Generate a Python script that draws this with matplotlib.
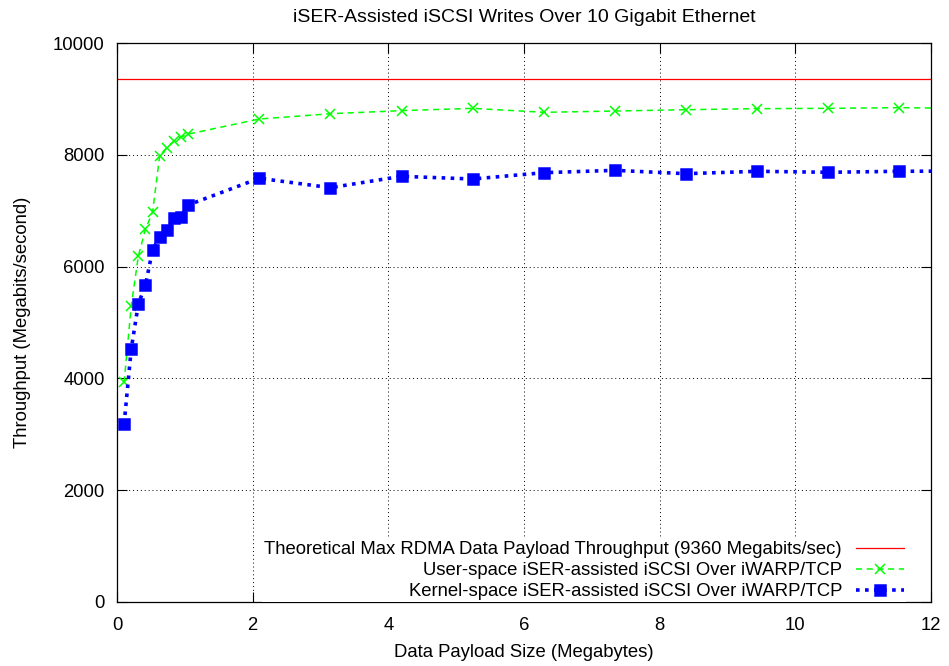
import matplotlib
matplotlib.use("Agg")
import matplotlib.pyplot as plt
import numpy as np

plt.rcParams['font.family'] = ['Liberation Sans', 'DejaVu Sans']

# Payload sizes: 100 KiB steps up to 1 MiB, then whole MiB steps (in megabytes)
small_sizes = [k * 1.048576 / 10 for k in range(1, 11)]
large_sizes = [k * 1.048576 for k in range(2, 13)]
payload_mb = small_sizes + large_sizes

user_space = [3930, 5295, 6190, 6670, 6975, 7985, 8130, 8240, 8318, 8370,
              8640, 8735, 8790, 8831, 8760, 8783, 8807, 8825, 8831, 8843, 8831]
kernel_space = [3184, 4525, 5331, 5668, 6300, 6527, 6650, 6862, 6885, 7102,
                7580, 7412, 7615, 7567, 7680, 7722, 7662, 7705, 7687, 7705, 7710]
theoretical_max = 9360

labels = [
    "Theoretical Max RDMA Data Payload Throughput (9360 Megabits/sec)",
    "User-space iSER-assisted iSCSI Over iWARP/TCP",
    "Kernel-space iSER-assisted iSCSI Over iWARP/TCP",
]

FS = 13.3

fig = plt.figure(figsize=(9.49, 6.66), dpi=100)
ax = fig.add_axes([117 / 949, 1 - 602 / 666, (931 - 117) / 949, (602 - 43) / 666])

ax.axhline(theoretical_max, color="#ff0000", lw=0.9, label=labels[0])
ax.plot(payload_mb, user_space, color="#00ff00", ls=(0, (4, 3)), lw=1.1,
        marker="x", ms=7.5, mew=1.1, label=labels[1])
ax.plot(payload_mb, kernel_space, color="#0000ff", ls=(0, (1, 1.5)), lw=2.6,
        marker="s", ms=6.8, mew=1.8, label=labels[2])

ax.set_xlim(0, 12)
ax.set_ylim(0, 10000)
ax.set_xticks(np.arange(0, 13, 2))
ax.set_yticks(np.arange(0, 10001, 2000))
ax.tick_params(direction="in", top=True, right=True, length=7, width=0.8,
               labelsize=FS)
ax.tick_params(axis="y", pad=9)
ax.tick_params(axis="x", pad=11)
ax.grid(True, color="black", ls=(0, (1, 3)), lw=0.7)
for s in ax.spines.values():
    s.set_linewidth(0.9)

ax.set_title("iSER-Assisted iSCSI Writes Over 10 Gigabit Ethernet", fontsize=14, pad=15)
ax.set_xlabel("Data Payload Size (Megabytes)", fontsize=FS, labelpad=7)
ax.set_ylabel("Throughput (Megabits/second)", fontsize=FS, labelpad=16)

# Key sits on an opaque white box so the grid does not run through it
leg = ax.legend(loc="lower right", markerfirst=False, frameon=True, fontsize=FS,
                handlelength=2.6, handletextpad=0.75, labelspacing=0.22,
                borderpad=0.12, borderaxespad=0.58, bbox_to_anchor=(0.9825, -0.02),
                facecolor="white", edgecolor="none", framealpha=1.0, fancybox=False)
leg.set_zorder(5)

fig.savefig("out.png", dpi=100, facecolor="white")
